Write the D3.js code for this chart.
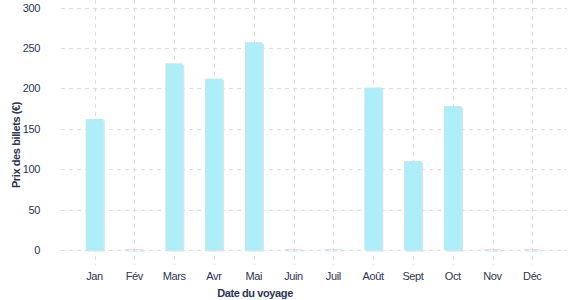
<!DOCTYPE html>
<html>
<head>
<meta charset="utf-8">
<script src="https://d3js.org/d3.v7.min.js"></script>
<style>
  body { margin: 0; background: #fff; }
  text { font-family: "Liberation Sans", Arial, sans-serif; fill: #2b3553; }
</style>
</head>
<body>
<div id="chart"></div>
<script>
  // months and ticket prices
  var months = ["Jan", "Fév", "Mars", "Avr", "Mai", "Juin", "Juil", "Août", "Sept", "Oct", "Nov", "Déc"];
  var prices = [162, 1, 231, 212, 257, 1, 1, 201, 110, 178, 1, 1];
  var yTicks = [0, 50, 100, 150, 200, 250, 300];

  var width = 577, height = 300;
  var svg = d3.select("#chart").append("svg")
    .attr("width", width)
    .attr("height", height);

  var x = d3.scaleBand()
    .domain(months)
    .range([74.6, 552.2])
    .paddingInner(0.56)
    .paddingOuter(0.28);

  var y = d3.scaleLinear()
    .domain([0, 300])
    .range([250, 7.5]);

  // horizontal grid
  svg.append("g").selectAll("line")
    .data(yTicks)
    .enter().append("line")
      .attr("x1", 61).attr("x2", 567)
      .attr("y1", function (d) { return Math.round(y(d)) + 0.5; })
      .attr("y2", function (d) { return Math.round(y(d)) + 0.5; })
      .style("stroke", "#dcdcdc")
      .style("stroke-dasharray", "4,4");

  // vertical grid
  svg.append("g").selectAll("line")
    .data(months)
    .enter().append("line")
      .attr("x1", function (d) { return Math.round(x(d) + x.bandwidth() / 2) + 0.5; })
      .attr("x2", function (d) { return Math.round(x(d) + x.bandwidth() / 2) + 0.5; })
      .attr("y1", 0).attr("y2", 265)
      .style("stroke", "#dcdcdc")
      .style("stroke-dasharray", "4,4");

  // bar shadows
  svg.append("g").selectAll("rect")
    .data(prices)
    .enter().append("rect")
      .attr("x", function (d, i) { return x(months[i]) + 1.5; })
      .attr("y", function (d) { return y(d) + 1.5; })
      .attr("width", x.bandwidth())
      .attr("height", function (d) { return y(0) - y(d); })
      .style("fill", "#dfe0e4");

  // bars
  svg.append("g").selectAll("rect")
    .data(prices)
    .enter().append("rect")
      .attr("x", function (d, i) { return x(months[i]); })
      .attr("y", function (d) { return y(d); })
      .attr("width", x.bandwidth())
      .attr("height", function (d) { return y(0) - y(d); })
      .style("fill", "#adeef8");

  // y tick labels
  svg.append("g").selectAll("text")
    .data(yTicks)
    .enter().append("text")
      .attr("x", 40)
      .attr("y", function (d) { return y(d) + 4; })
      .style("text-anchor", "end")
      .style("font-size", "11px")
      .style("letter-spacing", "-0.4px")
      .text(function (d) { return d; });

  // x tick labels
  svg.append("g").selectAll("text")
    .data(months)
    .enter().append("text")
      .attr("x", function (d) { return x(d) + x.bandwidth() / 2; })
      .attr("y", 279.5)
      .style("text-anchor", "middle")
      .style("font-size", "11px")
      .style("letter-spacing", "-0.4px")
      .text(function (d) { return d; });

  // axis titles
  svg.append("text")
    .attr("x", 255)
    .attr("y", 297)
    .style("text-anchor", "middle")
    .style("font-size", "11px")
    .style("font-weight", "bold")
    .style("letter-spacing", "-0.4px")
    .text("Date du voyage");

  svg.append("text")
    .attr("transform", "translate(20,145) rotate(-90)")
    .style("text-anchor", "middle")
    .style("font-size", "11px")
    .style("font-weight", "bold")
    .style("letter-spacing", "-0.4px")
    .text("Prix des billets (€)");
</script>
</body>
</html>
